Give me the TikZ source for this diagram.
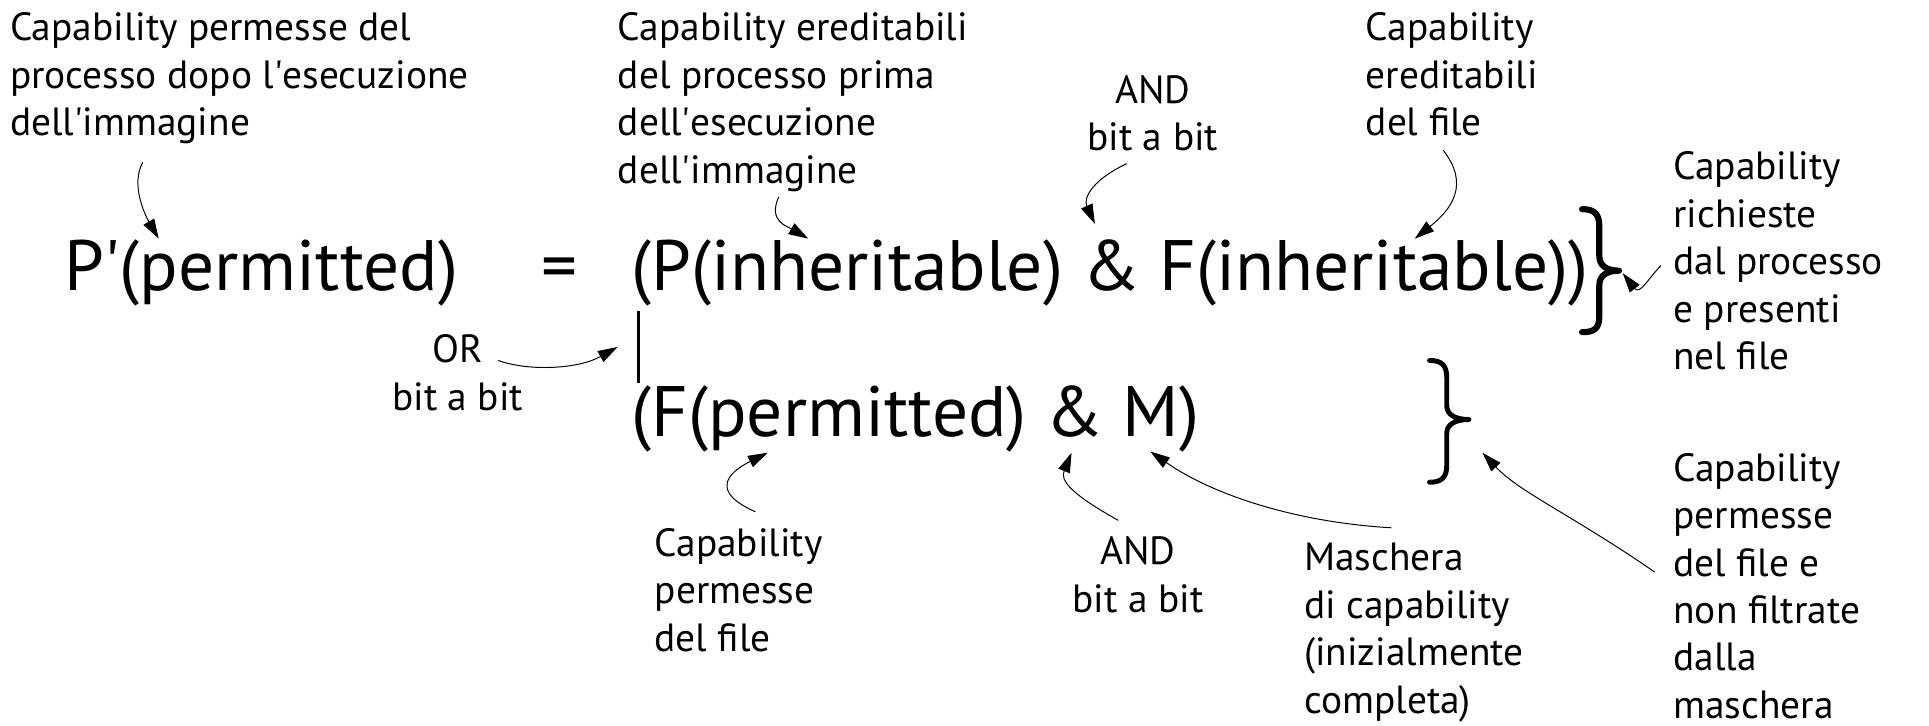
\documentclass[tikz,border=0pt]{standalone}
\usepackage{fontspec}
\setmainfont{PT Sans}
\usetikzlibrary{arrows.meta}
\newcommand\ap{\textquotesingle}
\begin{document}
\begin{tikzpicture}[x=1pt,y=-1pt]
\useasboundingbox (0,0) rectangle (1568,590);
\tikzset{
 lbl/.style={font=\fontsize{32}{38.6}\selectfont, inner sep=0pt, align=left, anchor=base west},
 lblc/.style={font=\fontsize{32}{38.6}\selectfont, inner sep=0pt, align=center, anchor=base},
 frm/.style={font=\fontsize{58}{60}\selectfont, inner sep=0pt, anchor=base west},
 arr/.style={line width=0.8pt, -{Triangle[length=16pt,width=10pt]}},
 brc/.style={line width=5pt, line cap=round, line join=round}
}
% labels (anchored at the baseline of their last line)
\node[lbl] (l1) at (8,110.2) {Capability permesse del\\processo dopo l\ap esecuzione\\dell\ap immagine};
\node[lbl] (l2) at (502,148.8) {Capability ereditabili\\del processo prima\\dell\ap esecuzione\\dell\ap immagine};
\node[lblc] (and1) at (937,122.6) {AND\\bit a bit};
\node[lbl] (l3) at (1110,110.2) {Capability\\ereditabili\\del file};
\node[lbl] (l4) at (1360,300.4) {Capability\\richieste\\dal processo\\e presenti\\nel file};
\node[lblc] (or) at (372,333.6) {OR\\bit a bit};
\node[lbl] (l5) at (532,529.2) {Capability\\permesse\\del file};
\node[lblc] (and2) at (925,497.6) {AND\\bit a bit};
\node[lbl] (l6) at (1060,579.8) {Maschera\\di capability\\(inizialmente\\completa)};
\node[lbl] (l7) at (1360,584) {Capability\\permesse\\del file e\\non filtrate\\dalla\\maschera};
% formula
\node[frm] (lhs) at (52,236) {P\ap(permitted)};
\node[frm, anchor=base] (eq) at (455,236) {=};
\node[frm] (top) at (513,236) {(P(inheritable) \& F(inheritable))};
\node[frm] (bot) at (513,355) {(F(permitted) \& M)};
\coordinate (barT) at (519,253);
\coordinate (barB) at (519,311);
\draw[line width=3pt] (barT) -- (barB);
% braces
\draw[brc] (1286,170) .. controls (1296,170) and (1300,174) .. (1300,184) -- (1300,208)
  .. controls (1300,216) and (1306,220) .. (1316,220)
  .. controls (1306,220) and (1300,224) .. (1300,232) -- (1300,257)
  .. controls (1300,267) and (1296,270) .. (1286,270);
\draw[brc, line width=4pt] (1162,293) .. controls (1172,293) and (1176,297) .. (1176,307) -- (1176,330)
  .. controls (1176,337) and (1183,341) .. (1194,341)
  .. controls (1183,341) and (1176,345) .. (1176,352) -- (1176,378)
  .. controls (1176,388) and (1172,392) .. (1162,392);
% arrow ends
\coordinate (s1) at (116,132); \coordinate (t1) at (129,194);
\coordinate (s2) at (633,160); \coordinate (t2) at (657,194);
\coordinate (s3) at (916,133); \coordinate (t3) at (890,182);
\coordinate (s4) at (1173,122); \coordinate (t4) at (1150,194);
\coordinate (s5) at (1350,216); \coordinate (t5) at (1319,222);
\coordinate (s6) at (405,293); \coordinate (t6) at (502,282);
\coordinate (s7) at (614,416); \coordinate (t7) at (624,368);
\coordinate (s8) at (909,423); \coordinate (t8) at (871,368);
\coordinate (s9) at (1131,429); \coordinate (t9) at (935,367);
\coordinate (s10) at (1345,465); \coordinate (t10) at (1205,368);
\draw[arr] (s1) .. controls (106,150) and (118,175) .. (t1);
\draw[arr] (s2) .. controls (624,180) and (640,184) .. (t2);
\draw[arr] (s3) .. controls (890,145) and (880,160) .. (t3);
\draw[arr] (s4) .. controls (1195,150) and (1180,170) .. (t4);
\draw[arr] (s5) .. controls (1340,226) and (1333,240) .. (t5);
\draw[arr] (s6) .. controls (430,302) and (470,300) .. (t6);
\draw[arr] (s7) .. controls (578,400) and (590,385) .. (t7);
\draw[arr] (s8) .. controls (868,400) and (862,390) .. (t8);
\draw[arr] (s9) .. controls (1060,425) and (990,405) .. (t9);
\draw[arr] (s10) .. controls (1280,420) and (1235,400) .. (t10);
\end{tikzpicture}
\end{document}
